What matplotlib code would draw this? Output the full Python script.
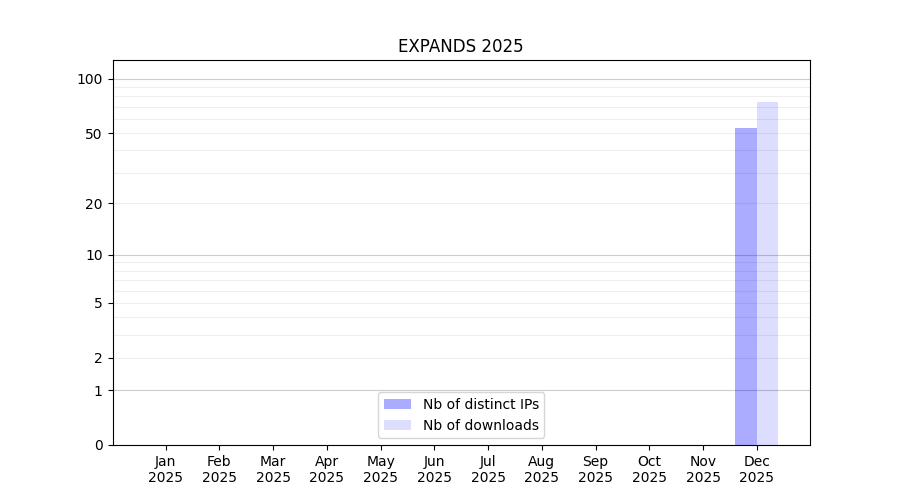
import numpy as np
import matplotlib

matplotlib.use("Agg", force=True)

import matplotlib.pyplot as plt


MONTHS = ["Jan", "Feb", "Mar", "Apr", "May", "Jun",
          "Jul", "Aug", "Sep", "Oct", "Nov", "Dec"]
YEAR = "2025"
DISTINCT_IPS = [0, 0, 0, 0, 0, 0, 0, 0, 0, 0, 0, 53]
DOWNLOADS = [0, 0, 0, 0, 0, 0, 0, 0, 0, 0, 0, 74]
Y_TICKS = [0, 1, 2, 5, 10, 20, 50, 100]
MAJOR_GRID = [1, 10, 100]
MINOR_GRID = [2, 3, 4, 5, 6, 7, 8, 9, 20, 30, 40, 50, 60, 70, 80, 90]


def forward(y):
    return np.log10(1 + np.asarray(y, dtype=float))


def inverse(y):
    return 10 ** np.asarray(y, dtype=float) - 1


def main():
    fig, ax = plt.subplots(figsize=(9, 5), dpi=100)

    x = np.arange(len(MONTHS))
    width = 0.4

    for val in MINOR_GRID:
        ax.axhline(val, color="#eeeeee", linewidth=0.8, zorder=0)
    for val in MAJOR_GRID:
        ax.axhline(val, color="#cccccc", linewidth=0.8, zorder=0)

    ax.bar(x - width / 2, DISTINCT_IPS, width, color="blue", alpha=0.33,
           label="Nb of distinct IPs", zorder=2)
    ax.bar(x + width / 2, DOWNLOADS, width, color="blue", alpha=0.135,
           label="Nb of downloads", zorder=2)

    ax.set_yscale("function", functions=(forward, inverse))
    ax.set_ylim(0, 127)
    ax.set_yticks(Y_TICKS)
    ax.set_yticklabels([str(t) for t in Y_TICKS])
    ax.yaxis.set_minor_locator(matplotlib.ticker.NullLocator())

    ax.set_xticks(x)
    ax.set_xticklabels([f"{m}\n{YEAR}" for m in MONTHS])
    ax.set_xlim(-0.99, 11.99)

    ax.set_title(f"EXPANDS {YEAR}")
    ax.legend(loc="lower center")

    fig.savefig("out.png", dpi=100)
    plt.close(fig)


if __name__ == "__main__":
    main()
